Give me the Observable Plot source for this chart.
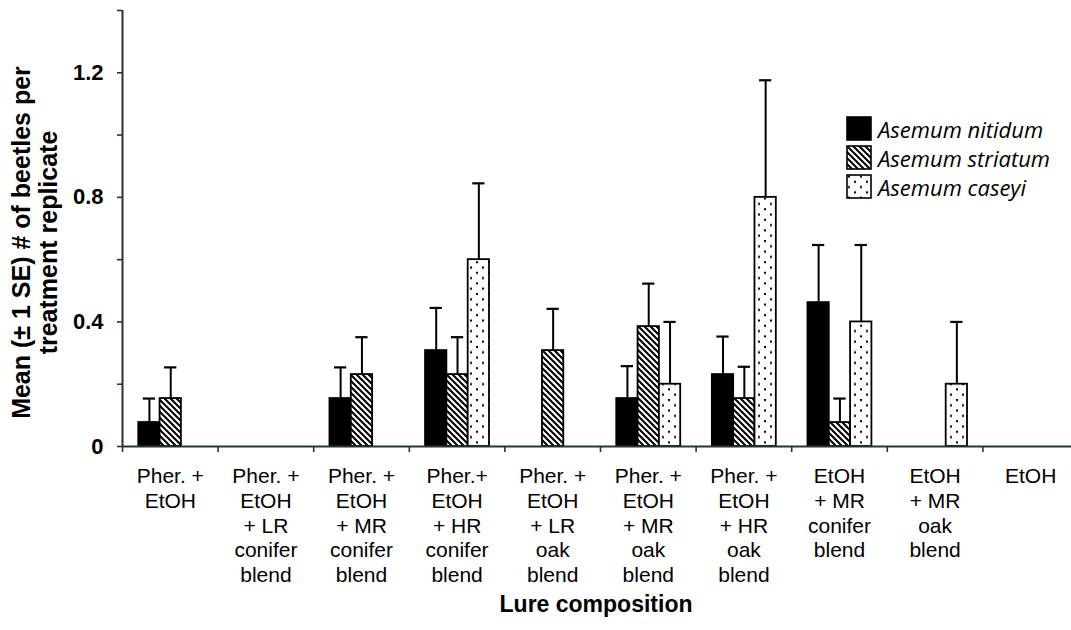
<!DOCTYPE html>
<html>
<head>
<meta charset="utf-8">
<script src="https://cdn.jsdelivr.net/npm/d3@7"></script>
<script src="https://cdn.jsdelivr.net/npm/@observablehq/plot@0.6"></script>
<style>
  body { margin: 0; background: #fff; }
  #wrap { position: relative; width: 1071px; height: 630px; overflow: hidden; }
  #wrap > svg { position: absolute; left: 0; top: 0; }
  #legend { position: absolute; left: 846px; top: 114px; font-family: "Open Sans", sans-serif; font-style: italic; font-size: 22px; color: #000; }
  .row { display: flex; align-items: center; height: 29px; }
  .row svg { margin-right: 6px; flex: none; }
</style>
</head>
<body>
<div id="wrap"><div id="legend"></div></div>
<script>
// ---- data ----
const categories = [
  "Pher. +\nEtOH",
  "Pher. +\nEtOH\n+ LR\nconifer\nblend",
  "Pher. +\nEtOH\n+ MR\nconifer\nblend",
  "Pher.+\nEtOH\n+ HR\nconifer\nblend",
  "Pher. +\nEtOH\n+ LR\noak\nblend",
  "Pher. +\nEtOH\n+ MR\noak\nblend",
  "Pher. +\nEtOH\n+ HR\noak\nblend",
  "EtOH\n+ MR\nconifer\nblend",
  "EtOH\n+ MR\noak\nblend",
  "EtOH"
];
const species = ["Asemum nitidum", "Asemum striatum", "Asemum caseyi"];
const nitidum    = [0.077, 0, 0.154, 0.308, 0,     0.154, 0.231, 0.462, 0,   0];
const nitidumSE  = [0.077, 0, 0.100, 0.137, 0,     0.104, 0.122, 0.185, 0,   0];
const striatum   = [0.154, 0, 0.231, 0.231, 0.308, 0.385, 0.154, 0.077, 0,   0];
const striatumSE = [0.100, 0, 0.120, 0.120, 0.134, 0.138, 0.102, 0.077, 0,   0];
const caseyi     = [0,     0, 0,     0.600, 0,     0.200, 0.800, 0.400, 0.2, 0];
const caseyiSE   = [0,     0, 0,     0.245, 0,     0.200, 0.376, 0.247, 0.2, 0];
const yTicks = [0, 0.2, 0.4, 0.6, 0.8, 1.0, 1.2, 1.4];
const yTickLabels = ["0", "", "0.4", "", "0.8", "", "1.2", ""];
const yTitle = "Mean (± 1 SE) # of beetles per\ntreatment replicate";
const xTitle = "Lure composition";

// ---- table ----
const means = [nitidum, striatum, caseyi];
const ses = [nitidumSE, striatumSE, caseyiSE];
const rows = [];
categories.forEach((c, i) => {
  species.forEach((s, j) => {
    const v = means[j][i];
    if (v > 0) rows.push({i, j, species: s, value: v, se: ses[j][i]});
  });
});

// layout of bars inside a category slot
const groupPad = 0.17, barW = 0.223, capHalf = 0.064;
const left = d => d.i + groupPad + d.j * barW;
const mid = d => left(d) + barW / 2;

const axisColor = "#263434";

const svg = Plot.plot({
  width: 1071,
  height: 630,
  marginLeft: 122,
  marginRight: 0,
  marginTop: 10,
  marginBottom: 184,
  style: { fontFamily: "'Liberation Sans', Arial, sans-serif", fontSize: "21px", color: "#000", background: "#fff" },
  x: { type: "linear", domain: [0, categories.length], range: [122, 1078] },
  y: { domain: [0, 1.4] },
  color: { domain: species, range: ["black", "url(#hatch)", "url(#dots)"] },
  marks: [
    Plot.rectY(rows, {
      x1: left, x2: d => left(d) + barW, y1: 0, y2: "value",
      fill: "species", stroke: "black", strokeWidth: 1.8
    }),
    Plot.ruleX(rows, { x: mid, y1: "value", y2: d => d.value + d.se, stroke: "black", strokeWidth: 2 }),
    Plot.ruleY(rows, { y: d => d.value + d.se, x1: d => mid(d) - capHalf, x2: d => mid(d) + capHalf, stroke: "black", strokeWidth: 2.2 }),
    Plot.ruleY([0], { stroke: axisColor, strokeWidth: 2 }),
    Plot.ruleX([0], { stroke: axisColor, strokeWidth: 2 }),
    Plot.axisY({
      ticks: yTicks, tickFormat: () => "", tickSize: 5,
      label: null, stroke: axisColor, strokeWidth: 1.6
    }),
    Plot.text(yTicks, {
      y: d => d, text: (d, i) => yTickLabels[i], frameAnchor: "left", textAnchor: "end",
      dx: -19, fontSize: 22, fontWeight: "bold", fill: "black"
    }),
    Plot.axisX({
      ticks: d3.range(categories.length + 1), tickFormat: () => "", tickSize: 6,
      label: null, stroke: axisColor, strokeWidth: 1.6
    }),
    Plot.text(categories, {
      x: (d, i) => i + 0.5, frameAnchor: "bottom", text: d => d,
      lineAnchor: "top", dy: 19, lineHeight: 1.18, fontSize: 21, fill: "black"
    }),
    Plot.text([xTitle], {
      frameAnchor: "bottom", text: d => d, dy: 165, dx: -1,
      fontSize: 23, fontWeight: "bold", fill: "black"
    }),
    Plot.text([yTitle], {
      frameAnchor: "left", text: d => d, rotate: -90, dx: -88, dy: 14,
      textAnchor: "middle", lineAnchor: "middle", lineHeight: 1.1,
      fontSize: 25, fontWeight: "bold", fill: "black"
    })
  ]
});

// patterns
const defs = d3.select(svg).insert("defs", ":first-child");
const hatch = defs.append("pattern").attr("id", "hatch").attr("patternUnits", "userSpaceOnUse")
  .attr("width", 6).attr("height", 6);
hatch.append("rect").attr("width", 6).attr("height", 6).attr("fill", "white");
hatch.append("path").attr("d", "M0,0L6,6M-3,3L3,9M3,-3L9,3").attr("stroke", "black").attr("stroke-width", 2);
const dots = defs.append("pattern").attr("id", "dots").attr("patternUnits", "userSpaceOnUse")
  .attr("width", 12).attr("height", 10.6);
dots.append("rect").attr("width", 12).attr("height", 10.6).attr("fill", "white");
dots.append("rect").attr("x", 2).attr("y", 1.5).attr("width", 2).attr("height", 2).attr("fill", "black");
dots.append("rect").attr("x", 8).attr("y", 6.8).attr("width", 2).attr("height", 2).attr("fill", "black");

document.getElementById("wrap").prepend(svg);

// legend
const fills = ["black", "url(#hatch)", "url(#dots)"];
const legend = d3.select("#legend");
species.forEach((s, k) => {
  const row = legend.append("div").attr("class", "row");
  const sw = row.append("svg").attr("width", 26).attr("height", 25);
  sw.append("rect").attr("x", 1).attr("y", 1).attr("width", 24).attr("height", 23)
    .attr("fill", fills[k]).attr("stroke", "black").attr("stroke-width", 1.6);
  row.append("span").text(s);
});
</script>
</body>
</html>
